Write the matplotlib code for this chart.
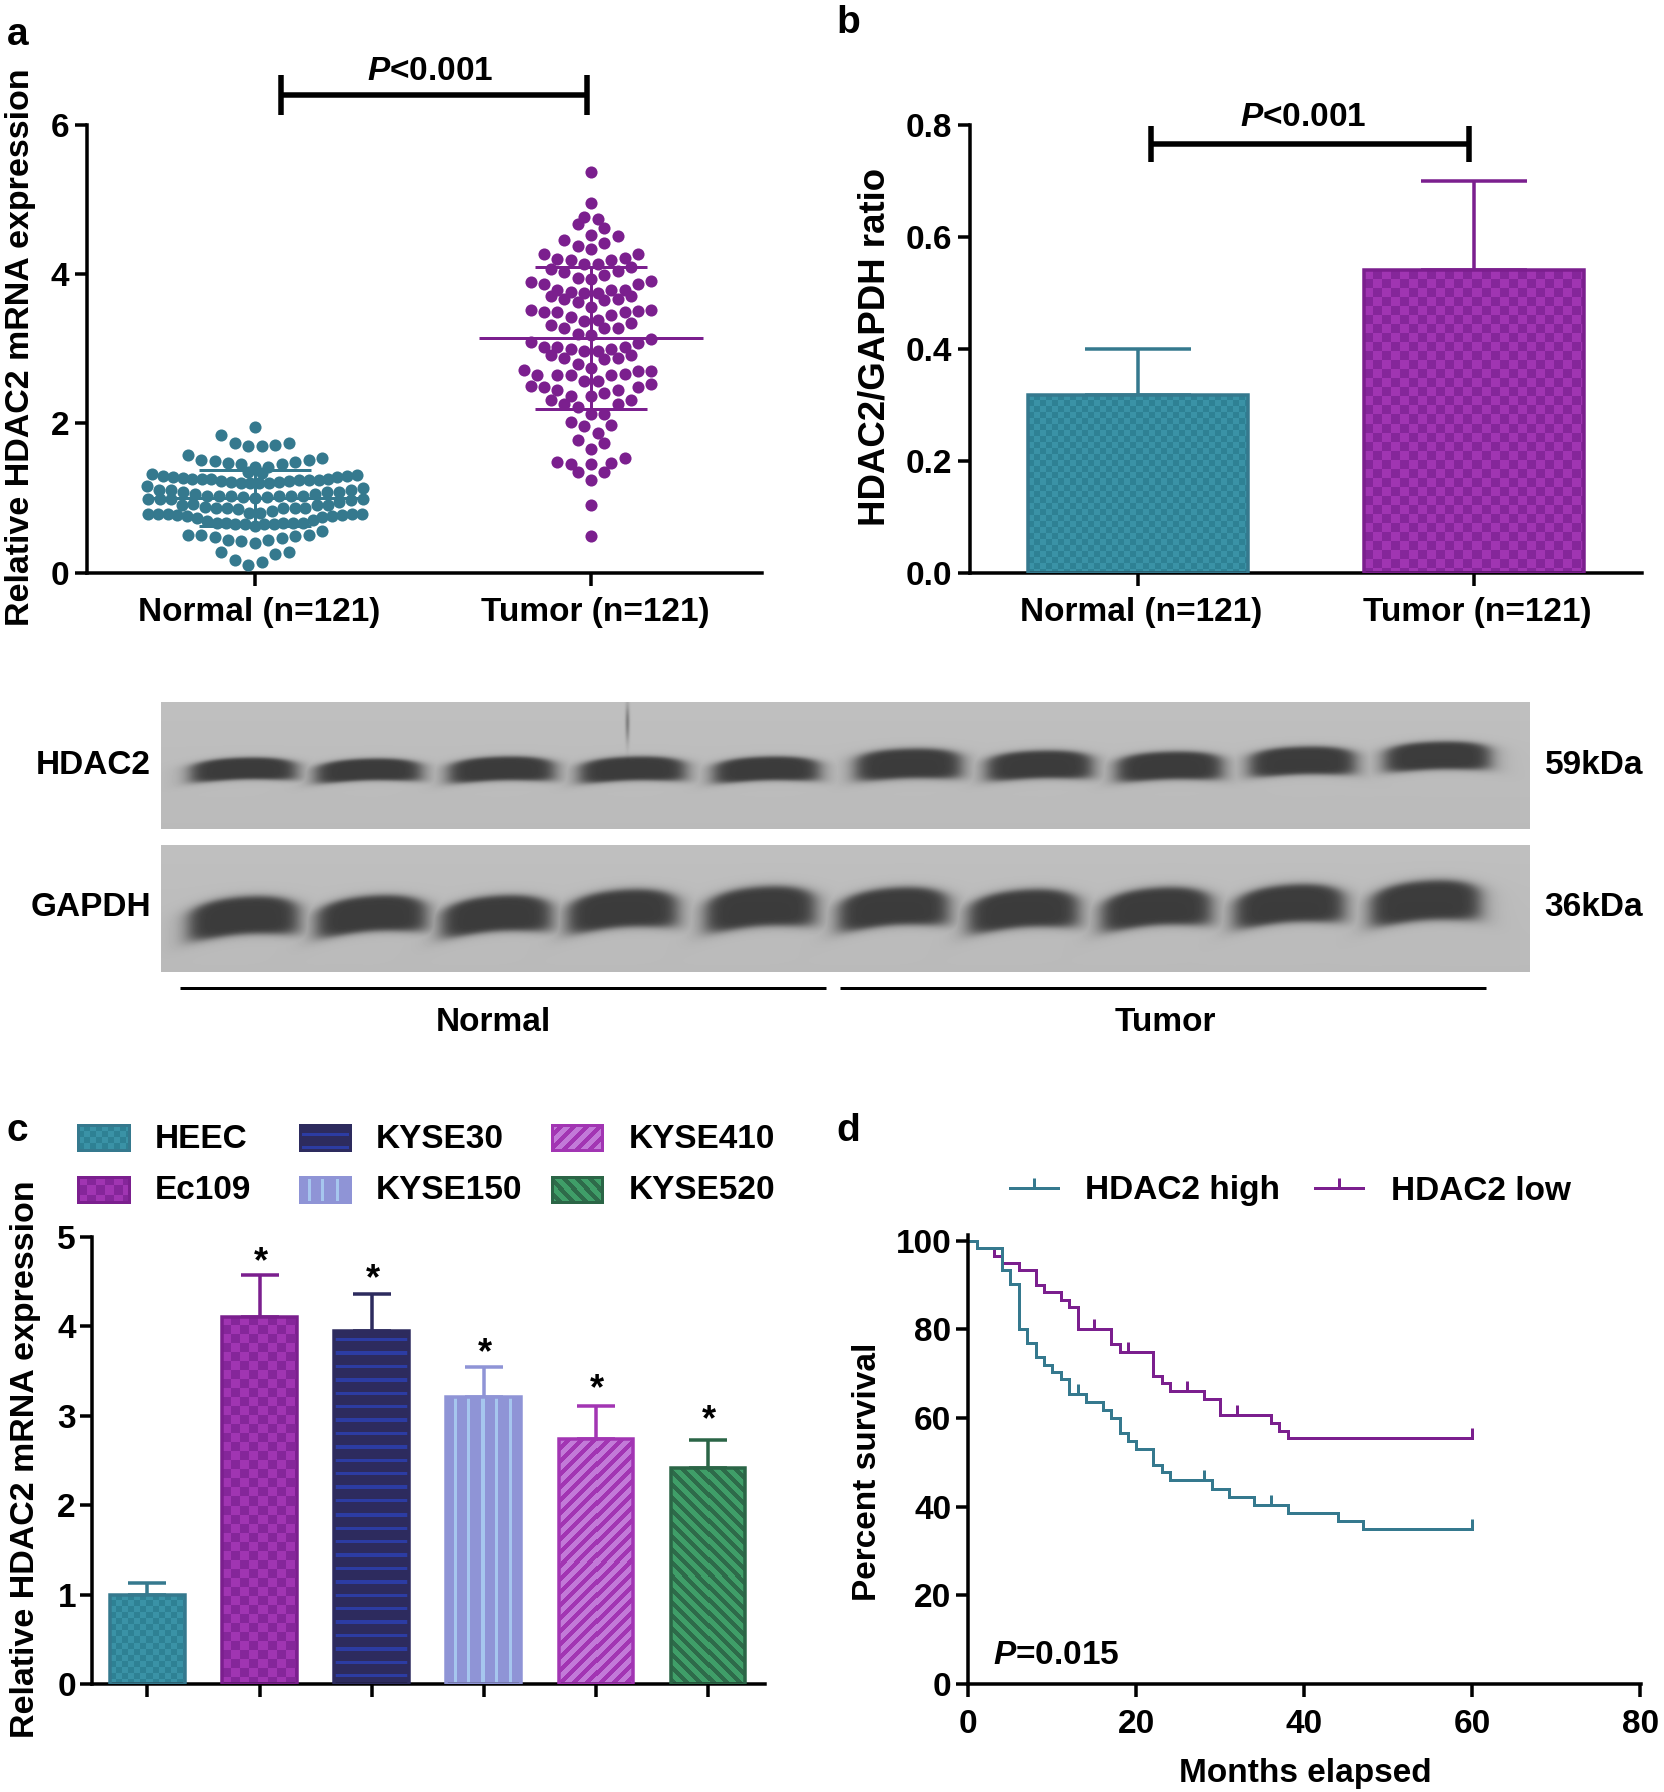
import numpy as np
import matplotlib
matplotlib.use("Agg")
from matplotlib import pyplot as plt
from matplotlib.lines import Line2D
from matplotlib.transforms import ScaledTranslation

plt.rcParams["font.family"] = ["Liberation Sans", "DejaVu Sans"]
plt.rcParams["font.weight"] = "bold"
plt.rcParams["axes.labelweight"] = "bold"
plt.rcParams["font.size"] = 24
plt.rcParams["mathtext.fontset"] = "custom"
plt.rcParams["mathtext.bfit"] = "Liberation Sans:italic:bold"
plt.rcParams["mathtext.default"] = "regular"

# === Data ===
groups = ["Normal (n=121)", "Tumor (n=121)"]

normal_y = [1.95,
            1.84, 1.73, 1.69, 1.69, 1.71, 1.74,
            1.58, 1.51, 1.50, 1.47, 1.45, 1.42, 1.42, 1.45, 1.48, 1.51, 1.54,
            1.35, 1.33,
            1.32, 1.30, 1.285, 1.27, 1.25, 1.25, 1.25, 1.23, 1.22, 1.20, 1.195,
            1.195, 1.195, 1.21, 1.23, 1.24, 1.24, 1.24, 1.25, 1.285, 1.29, 1.31,
            1.16, 1.11, 1.10, 1.08, 1.05, 1.03, 1.03, 1.02, 1.01, 1.00,
            1.01, 1.02, 1.03, 1.03, 1.05, 1.08, 1.08, 1.10, 1.13,
            0.98, 0.98, 0.98, 0.91, 0.92, 0.88, 0.86, 0.86, 0.85, 0.80,
            0.80, 0.83, 0.86, 0.86, 0.86, 0.91, 0.91, 0.95, 0.97, 0.98,
            0.785, 0.785, 0.78, 0.77, 0.76, 0.73, 0.69, 0.67, 0.67, 0.65, 0.65, 0.62,
            0.65, 0.65, 0.66, 0.66, 0.67, 0.70, 0.75, 0.76, 0.77, 0.785, 0.785,
            0.51, 0.50, 0.48, 0.44, 0.42, 0.39, 0.44, 0.46, 0.49, 0.50, 0.56,
            0.27, 0.17, 0.105, 0.14, 0.245, 0.27]
normal_x = [0,
            -.10, -.06, -.02, .02, .06, .10,
            -.20, -.161, -.12, -.08, -.041, 0, .04, .079, .12, .16, .199,
            -.02, .02,
            -.306, -.275, -.245, -.215, -.188, -.159, -.132, -.101, -.072, -.043, -.015,
            .013, .043, .071, .101, .131, .160, .189, .217, .245, .275, .303,
            -.32, -.285, -.249, -.213, -.178, -.142, -.106, -.071, -.036, 0,
            .035, .07, .106, .142, .178, .213, .249, .285, .32,
            -.317, -.283, -.251, -.217, -.184, -.15, -.116, -.084, -.051, -.017,
            .015, .05, .084, .118, .15, .184, .217, .251, .285, .32,
            -.317, -.288, -.26, -.231, -.201, -.172, -.144, -.114, -.086, -.059, -.03, 0,
            .028, .057, .084, .114, .142, .172, .199, .229, .259, .288, .319,
            -.2, -.161, -.12, -.08, -.041, 0, .04, .079, .12, .16, .199,
            -.1, -.06, -.021, .02, .06, .1]

tumor_y = [5.37, 4.95, 4.76, 4.73, 4.67, 4.62, 4.52, 4.51, 4.45, 4.41, 4.37, 4.33,
           4.27, 4.27, 4.21, 4.20, 4.19, 4.18, 4.13, 4.13, 4.09, 4.07, 4.04, 4.03,
           3.99, 3.94, 3.93, 3.89, 3.90, 3.87, 3.86, 3.79, 3.79, 3.79, 3.76, 3.74,
           3.74, 3.71, 3.70, 3.66, 3.65, 3.66, 3.62, 3.56, 3.52, 3.52, 3.50, 3.49,
           3.49, 3.49, 3.45, 3.42, 3.37, 3.38, 3.34, 3.32, 3.28, 3.28, 3.28, 3.20,
           3.18, 3.09, 3.13, 3.08, 3.02, 3.02, 3.02, 2.99, 2.99, 2.97, 2.97, 2.92,
           2.91, 2.88, 2.86, 2.88, 2.80, 2.74, 2.71, 2.70, 2.70, 2.66, 2.65, 2.65,
           2.64, 2.64, 2.56, 2.57, 2.50, 2.53, 2.48, 2.48, 2.45, 2.45, 2.40, 2.37,
           2.36, 2.31, 2.31, 2.26, 2.26, 2.22, 2.13, 2.13, 2.02, 1.98, 1.96, 1.87,
           1.77, 1.74, 1.66, 1.53, 1.48, 1.46, 1.47, 1.45, 1.35, 1.35, 1.24, 0.91, 0.49]
tumor_x = [0, 0, -.02, .02, -.04, .04, 0, .08, -.08, .04, -.04, 0,
           -.14, .14, .10, -.10, .06, -.06, -.02, .02, .12, -.12, .08, -.08,
           .04, -.04, 0, -.18, .18, .14, -.14, -.10, .10, .06, -.06, -.02,
           .02, .12, -.12, -.08, .04, .08, -.04, 0, -.18, .18, .14, -.14,
           -.10, .10, .06, -.06, -.02, .02, .12, -.12, -.08, .04, .08, -.04,
           0, -.18, .18, .14, -.14, -.10, .10, -.06, .06, -.02, .02, .12,
           -.12, -.08, .04, .08, -.04, 0, -.20, .18, .14, .10, -.16, -.10,
           .06, -.06, -.02, .02, -.18, .18, .14, -.14, .08, -.10, .04, -.06,
           0, -.12, .12, -.08, .08, -.04, 0, .04, -.06, .06, -.02, .02,
           -.04, .04, 0, .10, -.10, -.06, .06, 0, -.04, .04, 0, 0, 0]

dot_mean = [1.00, 3.14]
dot_upper = [1.37, 4.09]
dot_lower = [0.63, 2.19]

ratio_mean = [0.318, 0.54]
ratio_err = [0.082, 0.16]

lines_c = ["HEEC", "Ec109", "KYSE30", "KYSE150", "KYSE410", "KYSE520"]
expr_mean = [1.00, 4.11, 3.95, 3.21, 2.74, 2.42]
expr_err = [0.13, 0.47, 0.41, 0.34, 0.37, 0.31]
star_x = [1, 2, 3, 4, 5]
star_y = [4.79, 4.60, 3.77, 3.37, 3.02]

high_t = [0, 1, 4, 5, 6, 7, 8, 9, 10, 11, 12, 14, 16, 17, 18, 19, 20, 22, 23, 24,
          29, 31, 34, 38, 44, 47, 60]
high_s = [100, 98.35, 93.5, 90.2, 80.2, 77, 73.8, 72, 70.5, 68.9, 65.4, 63.6, 61.9,
          60.1, 56.6, 54.9, 53.1, 49.5, 47.9, 46.1, 44, 42.2, 40.4, 38.6, 36.7, 34.9, 34.9]
high_cens_t = [13, 28, 36, 60]
high_cens_s = [65.4, 46.1, 40.4, 34.9]

low_t = [0, 1, 3, 4, 6, 8, 9, 11, 12, 13, 17, 18, 22, 23, 24, 28, 30, 36, 37, 38, 60]
low_s = [100, 98.35, 96.6, 95, 93.5, 90, 88.4, 86.7, 85, 80, 76.8, 75, 69.6, 67.9,
         66.2, 64.4, 60.7, 58.9, 57, 55.4, 55.4]
low_cens_t = [15, 19, 26, 32, 60]
low_cens_s = [80, 75, 66.2, 60.7, 55.4]

# === Figure helpers ===
W, H = 1664, 1792
PX = 72 / 100
TEAL = "#35798E"
PURPLE = "#7B1F8E"
LW = 3.5 * PX

fig = plt.figure(figsize=(W / 100, H / 100), dpi=100, facecolor="white")


def axes_px(l, t, r, b):
    return fig.add_axes([l / W, 1 - b / H, (r - l) / W, (b - t) / H])


def style_axes(ax, c0, step, l, r, ylim, ypad=7):
    ax.set_xlim((l - c0) / step, (r - c0) / step)
    ax.set_ylim(*ylim)
    ax.spines["top"].set_visible(False)
    ax.spines["right"].set_visible(False)
    ax.spines["left"].set_linewidth(LW)
    ax.spines["bottom"].set_linewidth(LW)
    ax.tick_params(axis="y", width=LW, length=12 * PX, pad=ypad * PX)
    ax.tick_params(axis="x", width=LW, length=13 * PX, pad=11 * PX)
    ax.patch.set_alpha(0)


def nudge_xlabels(ax, px):
    for lbl in ax.get_xticklabels():
        lbl.set_transform(lbl.get_transform() + ScaledTranslation(px / 100, 0, fig.dpi_scale_trans))


def bracket(x0, x1, y, half):
    fig.add_artist(Line2D([x0 / W, x1 / W], [1 - y / H] * 2, color="black", lw=5.5 * PX,
                          solid_capstyle="butt"))
    for x in (x0, x1):
        fig.add_artist(Line2D([x / W] * 2, [1 - (y - half) / H, 1 - (y + half) / H],
                              color="black", lw=5.5 * PX, solid_capstyle="butt"))


def label_px(ax, text, x, y, size=24.5):
    ax.set_ylabel(text, va="center", ha="center", fontsize=size)
    ax.yaxis.set_label_coords(x / W, 1 - y / H, transform=fig.transFigure)


def text_px(x, y, s, **kw):
    kw.setdefault("va", "center")
    kw.setdefault("ha", "center")
    fig.text(x / W, 1 - y / H, s, **kw)


def texture(kind, w, h):
    # pattern fill for one bar, w and h are in pixels
    yy, xx = np.mgrid[0:h, 0:w]
    if kind == "teal":
        mask = ((xx // 6) + (yy // 6)) % 2 == 0
        a, b = "#3A92A6", "#2E8194"
    elif kind == "purple":
        mask = ((xx // 9) + (yy // 9)) % 2 == 0
        a, b = "#A035B2", "#85269A"
    elif kind == "navy":
        mask = (yy + 6) % 13.4 > 3.4
        a, b = "#2D2B5E", "#2C3CA3"
    elif kind == "peri":
        mask = (xx + 6) % 13.4 > 3
        a, b = "#8F94D6", "#A6C6EE"
    elif kind == "violet":
        mask = (xx + yy) % 13 > 6
        a, b = "#A235B3", "#C27AD8"
    else:
        mask = (xx - yy) % 13 > 6
        a, b = "#2E6B4A", "#3F9E68"
    rgb_a = np.array(matplotlib.colors.to_rgb(a))
    rgb_b = np.array(matplotlib.colors.to_rgb(b))
    return np.where(mask[..., None], rgb_a, rgb_b)


def textured_bars(ax, xs, ys, width, errs, kinds, edges, cap_px):
    xlim, ylim = ax.get_xlim(), ax.get_ylim()
    bars = ax.bar(xs, ys, width, facecolor="none", edgecolor=edges, linewidth=3.5 * PX, zorder=3)
    for rect, kind in zip(bars, kinds):
        x0, y0 = ax.transData.transform((rect.get_x(), 0))
        x1, y1 = ax.transData.transform((rect.get_x() + width, rect.get_height()))
        tex = texture(kind, int(x1 - x0), int(y1 - y0))
        ax.imshow(tex, extent=(rect.get_x(), rect.get_x() + width, 0, rect.get_height()),
                  aspect="auto", interpolation="nearest", zorder=2)
    for x, y, e, c in zip(xs, ys, errs, edges):
        ax.errorbar([x], [y], yerr=[[0], [e]], color=c, elinewidth=3.5 * PX, capthick=3.5 * PX,
                    capsize=cap_px / 2 * PX, zorder=1)
    ax.set_xlim(xlim)
    ax.set_ylim(ylim)


def swatch(l, t, r, b, kind, edge):
    ax = axes_px(l, t, r, b)
    ax.imshow(texture(kind, int(r - l), int(b - t)), aspect="auto", interpolation="nearest")
    ax.set_xticks([])
    ax.set_yticks([])
    for sp in ax.spines.values():
        sp.set_color(edge)
        sp.set_linewidth(3 * PX)


# === Panel a ===
ax = axes_px(87, 124.6, 762, 572.6)
style_axes(ax, 255, 336, 87, 762, (0, 6), ypad=6)
for i, (xs, ys, col) in enumerate([(normal_x, normal_y, TEAL), (tumor_x, tumor_y, PURPLE)]):
    ax.hlines(dot_mean[i], i - 0.333, i + 0.333, color=col, lw=3 * PX, zorder=2)
    ax.hlines([dot_upper[i], dot_lower[i]], i - 0.168, i + 0.168, color=col, lw=3 * PX, zorder=2)
    ax.vlines(i, dot_lower[i], dot_upper[i], color=col, lw=3 * PX, zorder=2)
    ax.scatter(i + np.array(xs), ys, s=76, color=col, linewidths=0, zorder=3, clip_on=False)
ax.set_xticks([0, 1], groups)
ax.set_yticks([0, 2, 4, 6])
nudge_xlabels(ax, 4)
label_px(ax, "Relative HDAC2 mRNA expression", 21, 347)
bracket(280.5, 586.5, 95, 20)
text_px(430, 71, r"$\mathbfit{P}$<0.001")

# === Panel b ===
ax = axes_px(970, 124.6, 1642, 572.6)
style_axes(ax, 1138, 336, 970, 1642, (0, 0.8), ypad=6)
textured_bars(ax, [0, 1], ratio_mean, 0.655, ratio_err, ["teal", "purple"], [TEAL, PURPLE], 107)
ax.set_xticks([0, 1], groups)
ax.set_yticks([0, 0.2, 0.4, 0.6, 0.8])
nudge_xlabels(ax, 3)
label_px(ax, "HDAC2/GAPDH ratio", 875, 347, size=26.4)
bracket(1151, 1469, 144, 18)
text_px(1303, 117, r"$\mathbfit{P}$<0.001")

# === Western blot ===
blot_centers = [[243, 368, 501, 632, 766, 908, 1039, 1169, 1302, 1437],
                [243, 371, 496, 622, 760, 893, 1023, 1156, 1289, 1425]]
blot_rows = [[768, 769, 768, 768, 768, 763, 764, 765, 760, 755],
             [915, 913, 913, 908, 906, 906, 908, 906, 903, 900]]
blot_hh = [[11, 11, 12, 12, 12, 15, 14, 14, 14, 14],
           [19, 18, 18, 19, 20, 19, 19, 19, 19, 20]]
blot_boxes = [(161, 702, 1530, 829), (161, 845, 1530, 972)]
blot_hw = [54, 56]
blot_bend = [(4, -1.5), (7, -4)]

for box, cx, cy, hh, hw, bend in zip(blot_boxes, blot_centers, blot_rows, blot_hh, blot_hw, blot_bend):
    l, t, r, b = box
    yy, xx = np.mgrid[t:b, l:r]
    dark = np.zeros(yy.shape)
    for x0, y0, h0 in zip(cx, cy, hh):
        dx = (xx - x0) / hw
        mid = y0 + bend[0] * dx ** 2 + bend[1] * dx
        dy = (yy - mid) / h0
        rad = (dx ** 4 + dy ** 4) ** 0.25
        dark = np.maximum(dark, 1 / (1 + rad ** 10))
    img = 191 - 5 * (yy - t) / (b - t) - (191 - 62) * dark
    if t == 702:
        img -= 60 * np.exp(-((xx - 627) / 2.2) ** 2 - ((yy - 722) / 19) ** 2)
    ax = axes_px(l, t, r, b)
    ax.imshow(img, cmap="gray", vmin=0, vmax=255, aspect="auto", interpolation="bilinear")
    ax.axis("off")

text_px(151, 765.5, "HDAC2", ha="right")
text_px(151, 907.5, "GAPDH", ha="right")
text_px(1545, 765.5, "59kDa", ha="left")
text_px(1544, 907.5, "36kDa", ha="left")
for x0, x1 in [(180, 826), (840, 1486)]:
    fig.add_artist(Line2D([x0 / W, x1 / W], [1 - 988 / H] * 2, color="black", lw=3 * PX,
                          solid_capstyle="butt"))
text_px(493, 1022.5, "Normal")
text_px(1165, 1022.5, "Tumor")

# === Panel c ===
kinds_c = ["teal", "purple", "navy", "peri", "violet", "green"]
edges_c = [TEAL, PURPLE, "#2D2B5E", "#8F94D6", "#A235B3", "#2B6546"]
ax = axes_px(92, 1237, 765, 1684)
style_axes(ax, 147.4, 112.1, 92, 765, (0, 5), ypad=4)
xs_c = np.arange(len(expr_mean))
textured_bars(ax, xs_c, expr_mean, 0.665, expr_err, kinds_c, edges_c, 38)
for x, y in zip(star_x, star_y):
    ax.annotate("*", xy=(x, y), xytext=(1 * PX, -16 * PX), textcoords="offset points",
                ha="center", va="baseline", fontsize=26)
ax.set_xticks(xs_c, [""] * len(xs_c))
ax.set_yticks([0, 1, 2, 3, 4, 5])
label_px(ax, "Relative HDAC2 mRNA expression", 26, 1459)

swatch_cols = [(78, 129, 154.6), (299.5, 350, 376), (552, 602, 629)]
swatch_rows = [(1125, 1150, 1139.5), (1176.5, 1202, 1190.5)]
order_c = [(0, 0, 0), (1, 0, 1), (2, 1, 0), (3, 1, 1), (4, 2, 0), (5, 2, 1)]
for i, col, row in order_c:
    l, r, tx = swatch_cols[col]
    t, b, ty = swatch_rows[row]
    swatch(l, t, r, b, kinds_c[i], edges_c[i])
    text_px(tx, ty, lines_c[i], ha="left")

# === Panel d ===
ax = axes_px(968.4, 1235, 1641, 1684)
ax.set_xlim(0, 80.08)
ax.set_ylim(0, 101.3)
ax.spines["top"].set_visible(False)
ax.spines["right"].set_visible(False)
ax.spines["left"].set_linewidth(LW)
ax.spines["bottom"].set_linewidth(LW)
ax.tick_params(axis="y", width=LW, length=12 * PX, pad=5 * PX)
ax.tick_params(axis="x", width=LW, length=13 * PX, pad=12 * PX)
ax.step(low_t, low_s, where="post", color=PURPLE, lw=3 * PX, solid_joinstyle="miter")
ax.step(high_t, high_s, where="post", color=TEAL, lw=3 * PX, solid_joinstyle="miter")
ax.plot(low_cens_t, low_cens_s, ls="none", marker=2, ms=10 * PX, mew=3 * PX, color=PURPLE)
ax.plot(high_cens_t, high_cens_s, ls="none", marker=2, ms=10 * PX, mew=3 * PX, color=TEAL)
ax.set_xticks([0, 20, 40, 60, 80])
ax.set_yticks([0, 20, 40, 60, 80, 100])
ax.set_xlabel("Months elapsed")
ax.xaxis.set_label_coords(1305 / W, 1 - 1773.5 / H, transform=fig.transFigure)
ax.xaxis.label.set_verticalalignment("center")
label_px(ax, "Percent survival", 868, 1472, size=24)
ax.text(993 / W, 1 - 1655.5 / H, r"$\mathbfit{P}$=0.015", transform=fig.transFigure, va="center")
handles = [Line2D([], [], color=TEAL, lw=3 * PX, marker=2, ms=10 * PX, mew=3 * PX),
           Line2D([], [], color=PURPLE, lw=3 * PX, marker=2, ms=10 * PX, mew=3 * PX)]
fig.legend(handles, ["HDAC2 high", "HDAC2 low"], loc="center left", ncol=2, frameon=False,
           numpoints=1, bbox_to_anchor=(1009.6 / W, 1 - 1191 / H), borderpad=0, borderaxespad=0,
           handlelength=1.44, handletextpad=0.83, columnspacing=1.04)

# === Panel letters ===
text_px(7, 45, "a", ha="left", va="baseline", fontsize=28)
text_px(836, 33, "b", ha="left", va="baseline", fontsize=28)
text_px(7, 1141, "c", ha="left", va="baseline", fontsize=28)
text_px(836, 1141, "d", ha="left", va="baseline", fontsize=28)

fig.savefig("out.png", dpi=100)
